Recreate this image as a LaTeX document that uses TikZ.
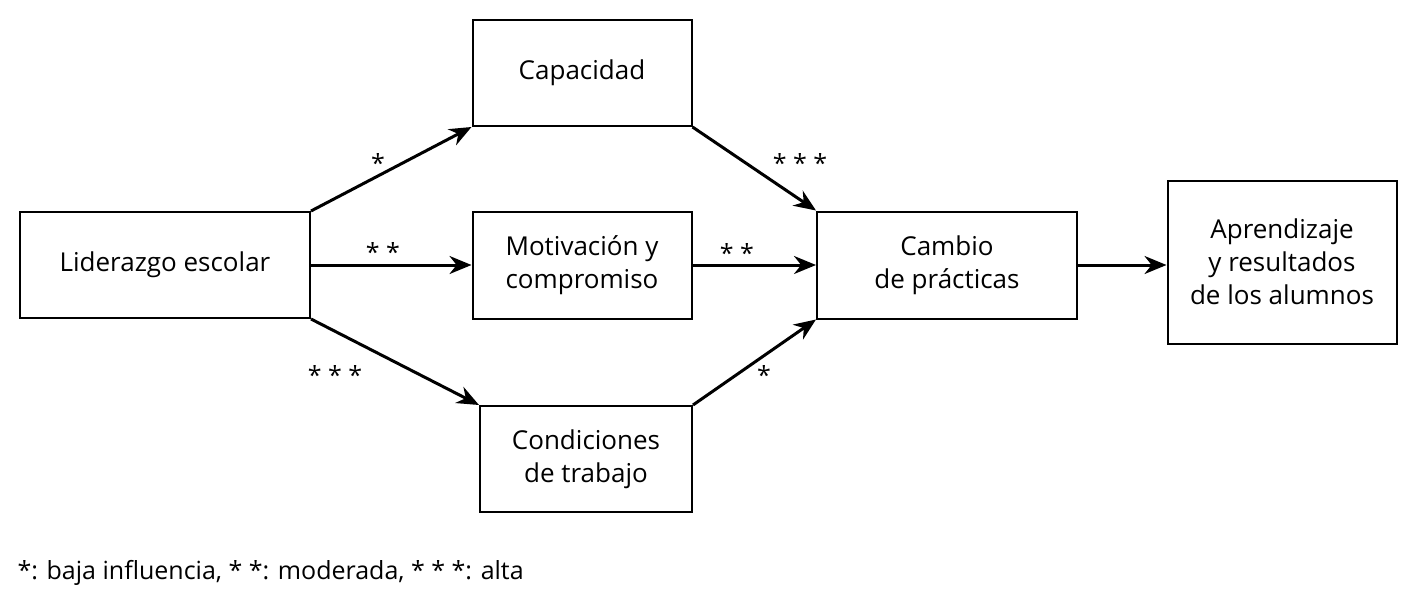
\documentclass[tikz,border=0pt]{standalone}
\usepackage{fontspec}
\setmainfont{Open Sans}
\usetikzlibrary{arrows.meta}
\begin{document}
\begin{tikzpicture}[x=1pt,y=-1pt,
  box/.style={draw,line width=2pt,align=center,font=\fontsize{26}{33}\selectfont,inner sep=0pt},
  arr/.style={line width=3pt,-{Stealth[length=22pt,width=18pt]}},
  lab/.style={font=\fontsize{25}{28}\selectfont}]
\useasboundingbox (0,0) rectangle (1413,600);
\node[box,minimum width=290pt,minimum height=106pt] (lid) at (165,265) {Liderazgo escolar};
\node[box,minimum width=219pt,minimum height=106pt] (cap) at (582,73) {Capacidad};
\node[box,minimum width=219pt,minimum height=107pt] (mot) at (582,265) {Motivación y\\compromiso};
\node[box,minimum width=212pt,minimum height=106pt] (con) at (586,459) {Condiciones\\de trabajo};
\node[box,minimum width=260pt,minimum height=107pt] (cam) at (947,265) {Cambio\\de prácticas};
\node[box,minimum width=229pt,minimum height=163pt] (apr) at (1282,262) {Aprendizaje\\y resultados\\de los alumnos};
\draw[arr] (lid.north east) -- (cap.south west);
\draw[arr] (lid.east) -- (mot.west);
\draw[arr] (lid.south east) -- (con.north west);
\draw[arr] (cap.south east) -- (cam.north west);
\draw[arr] (mot.east) -- (cam.west);
\draw[arr] (con.north east) -- (cam.south west);
\draw[arr] (cam.east) -- (cam.east -| apr.west);
\node[lab] (l1) at (378,163) {*};
\node[lab] (l2) at (383,252) {* *};
\node[lab] (l3) at (335,375) {* * *};
\node[lab] (l4) at (800,163) {* * *};
\node[lab] (l5) at (737,253) {* *};
\node[lab] (l6) at (764,375) {*};
\node[lab,anchor=west] (leg) at (14,573) {*: baja influencia, * *: moderada, * * *: alta};
\end{tikzpicture}
\end{document}
